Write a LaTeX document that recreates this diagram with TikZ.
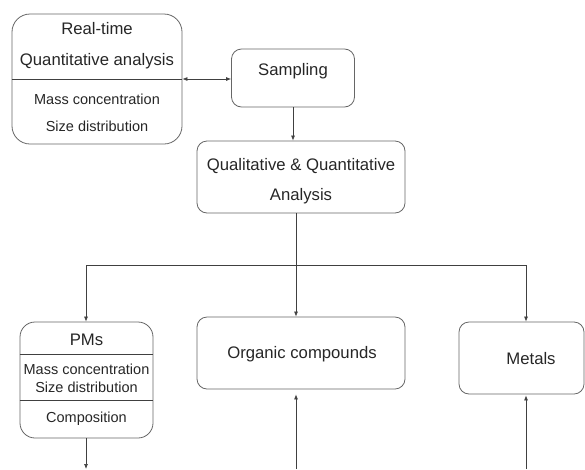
\documentclass[tikz,border=0pt]{standalone}
\usepackage{fontspec}
\setmainfont{Liberation Sans}
\usepackage{tikz}
\usetikzlibrary{arrows.meta}

\tikzset{
  box/.style={draw=black!60, line width=0.8pt, rounded corners=10pt, inner sep=0pt},
  bigtxt/.style={font=\fontsize{16.7}{31}\selectfont, text=black!85, align=center},
  smalltxt/.style={font=\fontsize{14.5}{27}\selectfont, text=black!85, align=center},
  conn/.style={draw=black!75, line width=0.7pt},
  tip/.style={-{Latex[length=5pt,width=4pt]}}
}

\begin{document}
\begin{tikzpicture}[x=1pt,y=-1pt]
\useasboundingbox (0,0) rectangle (585,469);

% real-time box
\node[box, rounded corners=18pt, minimum width=170pt, minimum height=130pt] (rt) at (97,79) {};
\draw[conn] (rt.west) -- (rt.east);
\node[bigtxt] (rthead) at (97,46) {Real-time\\Quantitative analysis};
\node[smalltxt] (rtbody) at (97,113) {Mass concentration\\Size distribution};

% sampling
\node[box, minimum width=123pt, minimum height=58pt] (samp) at (293,78) {};
\node[bigtxt] (samptxt) at (293,71) {Sampling};
\draw[conn, {Latex[length=5pt,width=4pt]}-{Latex[length=5pt,width=4pt]}] (rt.east) -- (samp.west |- rt.east);

% qualitative & quantitative analysis
\node[box, minimum width=208pt, minimum height=72pt] (qq) at (301,177) {};
\node[bigtxt, font=\fontsize{16.7}{30}\selectfont] (qqtxt) at (301,181) {Qualitative \& Quantitative\\Analysis};
\draw[conn,tip] (samp.south) -- (samp.south |- qq.north);

% branching
\coordinate (split) at (296,265);
\coordinate (hl) at (86,265);
\coordinate (hr) at (526,265);
\draw[conn] (qq.south -| split) -- (split);
\draw[conn] (hl) -- (hr);

% PMs box
\node[box, rounded corners=15pt, minimum width=133pt, minimum height=116pt] (pm) at (86.5,380) {};
\draw[conn] (pm.west |- 0,354) -- (pm.east |- 0,354);
\draw[conn] (pm.west |- 0,400) -- (pm.east |- 0,400);
\node[bigtxt] (pmhead) at (86.5,340) {PMs};
\node[smalltxt, font=\fontsize{14.5}{18}\selectfont] (pmbody) at (86.5,378) {Mass concentration\\Size distribution};
\node[smalltxt] (pmcomp) at (86.5,419) {Composition};

% organic compounds
\node[box, minimum width=208pt, minimum height=72pt] (org) at (301,353) {};
\node[bigtxt] (orgtxt) at (302,354) {Organic compounds};

% metals
\node[box, minimum width=125pt, minimum height=72pt] (met) at (521.5,358) {};
\node[bigtxt] (mettxt) at (531,359) {Metals};

% arrows down
\draw[conn,tip] (hl) -- (hl |- pm.north);
\draw[conn,tip] (split) -- (split |- org.north);
\draw[conn,tip] (hr) -- (hr |- met.north);

% arrows at the bottom
\coordinate (pmout) at (86,469);
\coordinate (orgin) at (296,469);
\coordinate (metin) at (526,469);
\draw[conn,tip] (pm.south -| pmout) -- (pmout);
\draw[conn,tip,shorten >=5pt] (orgin) -- (orgin |- org.south);
\draw[conn,tip,shorten >=1pt] (metin) -- (metin |- met.south);
\end{tikzpicture}
\end{document}
